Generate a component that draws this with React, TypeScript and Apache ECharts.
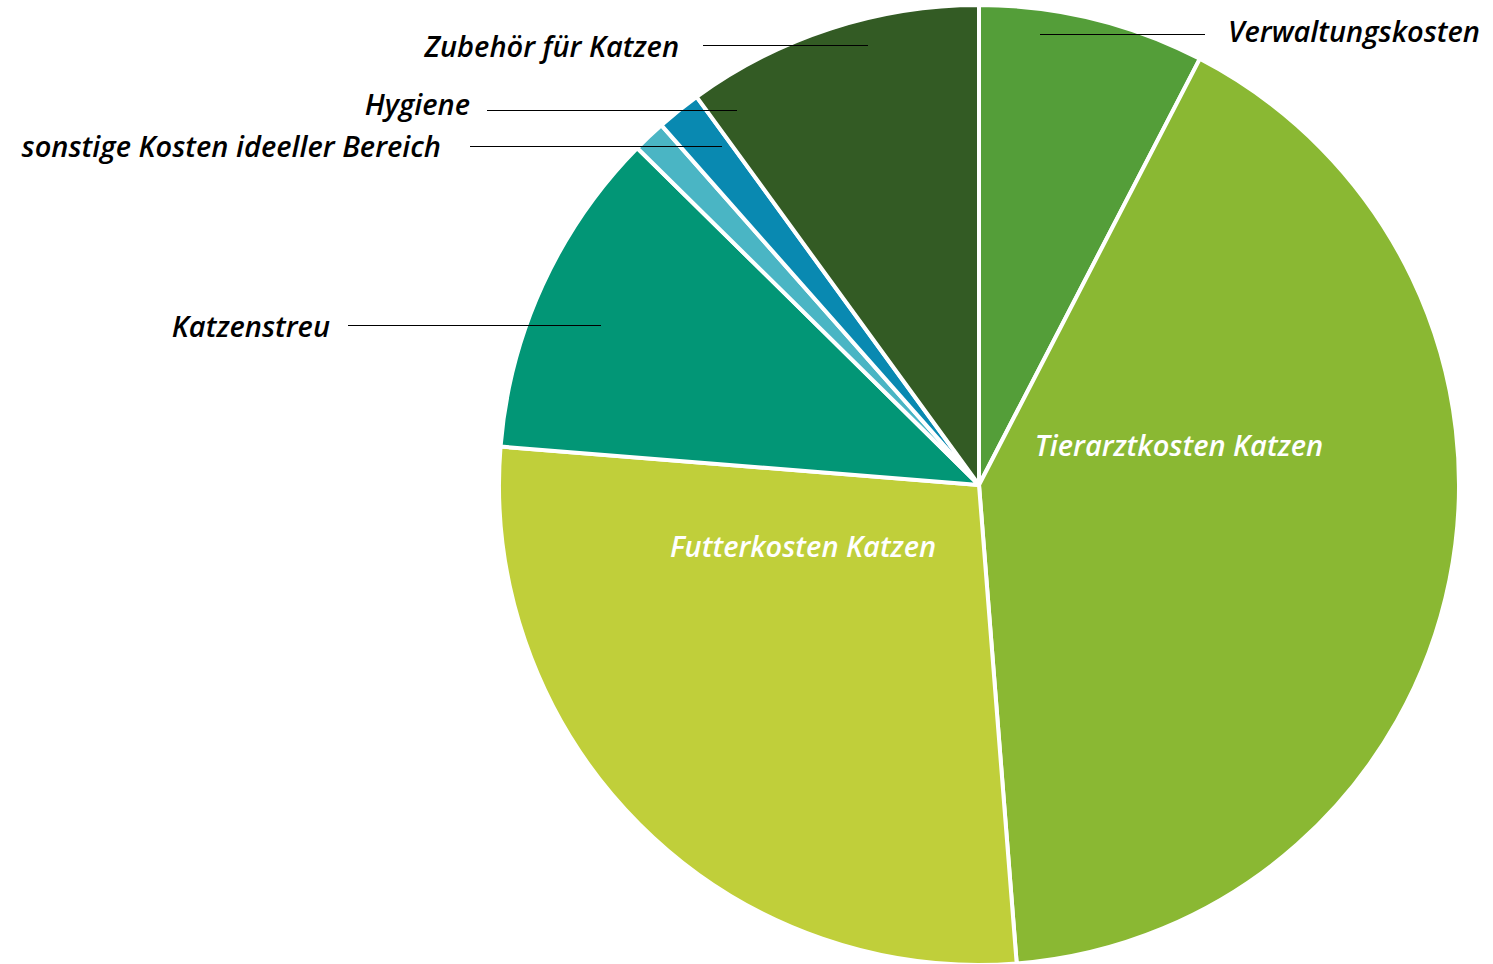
import React, { useEffect, useRef } from "react";
import * as echarts from "echarts";

const categories = [
  "Verwaltungskosten",
  "Tierarztkosten Katzen",
  "Futterkosten Katzen",
  "Katzenstreu",
  "sonstige Kosten ideeller Bereich",
  "Hygiene",
  "Zubehör für Katzen",
];
const values = [7.6, 41.1, 27.5, 11.1, 1.1, 1.5, 10.0];
const colors = ["#549E39", "#8AB833", "#C0CF3A", "#029676", "#4AB5C4", "#0989B1", "#335B24"];
const insideLabel = [false, true, true, false, false, false, false];

// label placement (layout only)
const labelPlacement: any[] = [
  { x: 1228, y: 30, align: "left", line: [1040, 34, 1205, 34] },
  { x: 1179, y: 444, align: "center" },
  { x: 803, y: 545, align: "center" },
  { x: 330, y: 325, align: "right", line: [348, 325, 601, 325] },
  { x: 441, y: 145, align: "right", line: [470, 146, 722, 146] },
  { x: 470, y: 103, align: "right", line: [487, 110, 737, 110] },
  { x: 679, y: 45, align: "right", line: [703, 45, 868, 45] },
];

export default function App() {
  const ref = useRef<HTMLDivElement>(null);
  useEffect(() => {
    if (!ref.current) return;
    const chart = echarts.init(ref.current, undefined, { renderer: "svg" });
    const font = {
      fontFamily: "Open Sans",
      fontStyle: "italic" as const,
      fontWeight: 600,
      fontSize: 29,
    };
    chart.setOption({
      animation: false,
      graphic: labelPlacement
        .filter((p) => p.line)
        .map((p) => ({
          type: "line",
          z: 100,
          shape: { x1: p.line[0], y1: p.line[1] + 0.5, x2: p.line[2], y2: p.line[3] + 0.5 },
          style: { stroke: "#000000", lineWidth: 1 },
          silent: true,
        })),
      series: [
        {
          type: "pie",
          center: [979, 485],
          radius: 480,
          startAngle: 90,
          clockwise: true,
          avoidLabelOverlap: false,
          itemStyle: { borderColor: "#ffffff", borderWidth: 4 },
          emphasis: { disabled: true },
          labelLine: { show: false },
          data: categories.map((name, i) => ({
            name,
            value: values[i],
            itemStyle: { color: colors[i] },
            label: insideLabel[i]
              ? { show: true, position: "inside", color: "#ffffff", ...font }
              : { show: true, position: "outside", color: "#000000", ...font },
          })),
          label: { formatter: "{b}" },
          labelLayout: (params: any) => {
            const p = labelPlacement[params.dataIndex];
            return {
              x: p.x,
              y: p.y,
              align: p.align,
              verticalAlign: "middle",
            };
          },
        },
      ],
    });
    return () => chart.dispose();
  }, []);
  return (
    <div
      ref={ref}
      style={{ position: "fixed", left: 0, top: 0, width: 1493, height: 964, background: "#fff" }}
    />
  );
}
